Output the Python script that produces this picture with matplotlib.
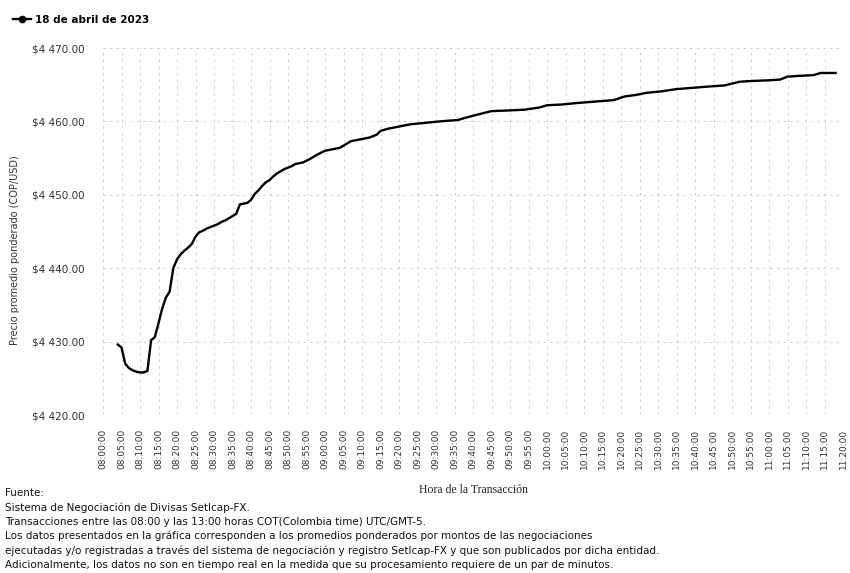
import numpy as np
import pandas as pd
import matplotlib
matplotlib.use("Agg")
import matplotlib.pyplot as plt
import matplotlib.dates as mdates
from matplotlib.lines import Line2D

# Datos (hora, precio promedio ponderado COP/USD)
horas = ["08:04", "08:05", "08:06", "08:07", "08:08", "08:09", "08:10", "08:11", "08:12",
         "08:13", "08:14", "08:15", "08:16", "08:17", "08:18", "08:19", "08:20", "08:21",
         "08:22", "08:23", "08:24", "08:25", "08:26", "08:27", "08:28", "08:29", "08:30",
         "08:31", "08:32", "08:33", "08:34", "08:35", "08:36", "08:37", "08:38", "08:39",
         "08:40", "08:41", "08:42", "08:43", "08:44", "08:45", "08:46", "08:47", "08:48",
         "08:49", "08:50", "08:51", "08:52", "08:54", "08:56", "08:58", "09:00", "09:02",
         "09:04", "09:06", "09:07", "09:09", "09:12", "09:14", "09:15", "09:17", "09:20",
         "09:23", "09:27", "09:31", "09:36", "09:38", "09:41", "09:45", "09:50", "09:54",
         "09:58", "10:00", "10:04", "10:08", "10:13", "10:18", "10:21", "10:24", "10:27",
         "10:31", "10:35", "10:40", "10:45", "10:48", "10:52", "10:55", "11:00", "11:03",
         "11:05", "11:08", "11:12", "11:14", "11:18"]
precio = [4429.6, 4429.2, 4427.0, 4426.4, 4426.1, 4425.9, 4425.8, 4425.8, 4426.0,
          4430.2, 4430.6, 4432.5, 4434.5, 4436.0, 4436.8, 4440.0, 4441.2, 4441.9,
          4442.4, 4442.8, 4443.3, 4444.3, 4444.9, 4445.1, 4445.4, 4445.6, 4445.8,
          4446.0, 4446.3, 4446.5, 4446.8, 4447.1, 4447.4, 4448.7, 4448.8, 4448.9,
          4449.3, 4450.1, 4450.6, 4451.2, 4451.7, 4452.0, 4452.5, 4452.9, 4453.2,
          4453.5, 4453.7, 4453.9, 4454.2, 4454.4, 4454.9, 4455.5, 4456.0, 4456.2,
          4456.4, 4457.0, 4457.3, 4457.5, 4457.8, 4458.2, 4458.7, 4459.0, 4459.3,
          4459.6, 4459.8, 4460.0, 4460.2, 4460.5, 4460.9, 4461.4, 4461.5, 4461.6,
          4461.9, 4462.2, 4462.3, 4462.5, 4462.7, 4462.9, 4463.4, 4463.6, 4463.9,
          4464.1, 4464.4, 4464.6, 4464.8, 4464.9, 4465.4, 4465.5, 4465.6, 4465.7,
          4466.1, 4466.2, 4466.3, 4466.6, 4466.6]
serie = "18 de abril de 2023"
y_ticks = [4420, 4430, 4440, 4450, 4460, 4470]
y_labels = ["$4 420.00", "$4 430.00", "$4 440.00", "$4 450.00", "$4 460.00", "$4 470.00"]
notas = ["Fuente:",
         "Sistema de Negociación de Divisas SetIcap-FX.",
         "Transacciones entre las 08:00 y las 13:00 horas COT(Colombia time) UTC/GMT-5.",
         "Los datos presentados en la gráfica corresponden a los promedios ponderados por montos de las negociaciones",
         "ejecutadas y/o registradas a través del sistema de negociación y registro SetIcap-FX y que son publicados por dicha entidad.",
         "Adicionalmente, los datos no son en tiempo real en la medida que su procesamiento requiere de un par de minutos."]

x = pd.to_datetime(["2023-04-18 " + h for h in horas])

fig = plt.figure(figsize=(8.5, 5.73), dpi=100)
ax = fig.add_axes([103/850, 1-415/573, 740/850, 367/573])

ax.plot(x, precio, color="black", lw=1.7, solid_joinstyle="round")

ax.set_xlim(pd.Timestamp("2023-04-18 08:00"), pd.Timestamp("2023-04-18 11:20"))
ax.set_ylim(4420, 4470)
ax.set_yticks(y_ticks)
ax.set_yticklabels(y_labels)
ax.xaxis.set_major_locator(mdates.MinuteLocator(byminute=range(0, 60, 5)))
ax.xaxis.set_major_formatter(mdates.DateFormatter("%H:%M:%S"))
ax.tick_params(axis="x", rotation=90, labelsize=6.5, length=0, pad=10, colors="#333333")
ax.tick_params(axis="y", labelsize=7.5, length=0, pad=13, colors="#333333")

ax.grid(True, color="#c8c8c8", lw=0.6, linestyle=(0, (3, 5)))
for s in ax.spines.values():
    s.set_visible(False)

ax.set_ylabel("Precio promedio ponderado (COP/USD)", fontsize=7, color="#333333")
ax.yaxis.set_label_coords(-0.112, 0.45)

fig.text(473/850, 1-490/573, "Hora de la Transacción", family="Liberation Serif",
         fontsize=8.5, ha="center", va="center", color="#222222")

handle = Line2D([], [], color="black", lw=1.7, marker="o", ms=4.5)
fig.legend([handle], [serie], loc="center left", bbox_to_anchor=(13/850, 1-20/573),
           frameon=False, prop={"weight": "bold", "size": 7.5}, handlelength=1.7,
           handletextpad=0.4, borderpad=0, borderaxespad=0)

for i, linea in enumerate(notas):
    fig.text(5/850, 1-(493 + i*14.4)/573, linea, fontsize=7.5, va="center",
             ha="left", color="#111111")

fig.savefig("out.png", dpi=100)
